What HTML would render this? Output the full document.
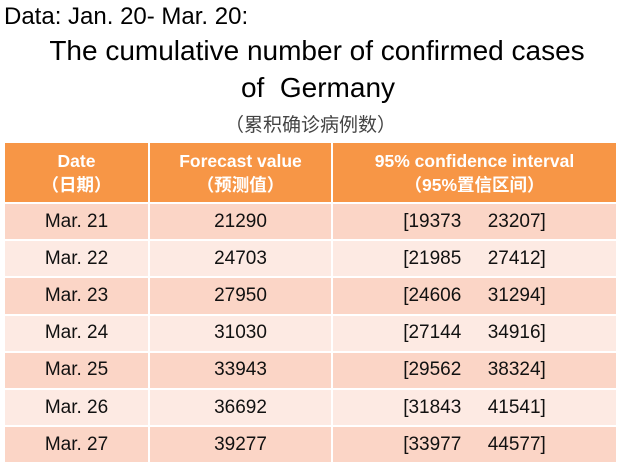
<!DOCTYPE html>
<html><head><meta charset="utf-8"><style>
body{margin:0;width:621px;height:467px;background:#fff;position:relative;overflow:hidden;font-family:"Liberation Sans","Noto Sans CJK SC",sans-serif;}
.t{position:absolute;white-space:nowrap;color:#000;}
.c{position:absolute;display:flex;align-items:center;justify-content:center;text-align:center;font-size:19px;color:#111;}
.h{background:#f79646;color:#fff;font-weight:bold;font-size:17.5px;line-height:24px;flex-direction:column;}
</style></head><body>
<div class="t" style="left:4px;top:3px;font-size:24px;">Data: Jan. 20- Mar. 20:</div>
<div class="t" style="left:0;width:634px;text-align:center;top:35px;font-size:28px;">The cumulative number of confirmed cases</div>
<div class="t" style="left:0;width:636px;text-align:center;top:72px;font-size:28px;">of&nbsp; Germany</div>
<div class="t" style="left:0;width:621px;text-align:center;top:110px;font-size:19px;color:#444;">（累积确诊病例数）</div>
<div id="tbl"></div>
<script>
const dates=["Mar. 21","Mar. 22","Mar. 23","Mar. 24","Mar. 25","Mar. 26","Mar. 27"];
const forecast=[21290,24703,27950,31030,33943,36692,39277];
const lower=[19373,21985,24606,27144,29562,31843,33977];
const upper=[23207,27412,31294,34916,38324,41541,44577];
const tbl=document.getElementById('tbl');
const cols=[[5,143],[150,181],[333,283]];
const heads=[["Date","（日期）"],["Forecast value","（预测值）"],["95% confidence interval","（95%置信区间）"]];
heads.forEach((h,i)=>{
  const d=document.createElement('div');d.className='c h';
  
  
  d.style.cssText=`left:${cols[i][0]}px;width:${cols[i][1]}px;top:143px;height:59px;`;
  d.innerHTML=`<span>${h[0]}</span><span>${h[1]}</span>`;tbl.appendChild(d);
});
const top0=204,rh=37.2;
dates.forEach((dt,r)=>{
  const vals=[dt,String(forecast[r]),`[${lower[r]}&nbsp;&nbsp;&nbsp;&nbsp;&nbsp;${upper[r]}]`];
  vals.forEach((v,i)=>{
    const d=document.createElement('div');d.className='c';
    
    
    d.style.cssText=`left:${cols[i][0]}px;width:${cols[i][1]}px;top:${top0+r*rh}px;height:${rh-2}px;background:${r%2?'#fdeae3':'#fbd5c6'};`;
    d.innerHTML=v;tbl.appendChild(d);
  });
});
</script>
</body></html>
